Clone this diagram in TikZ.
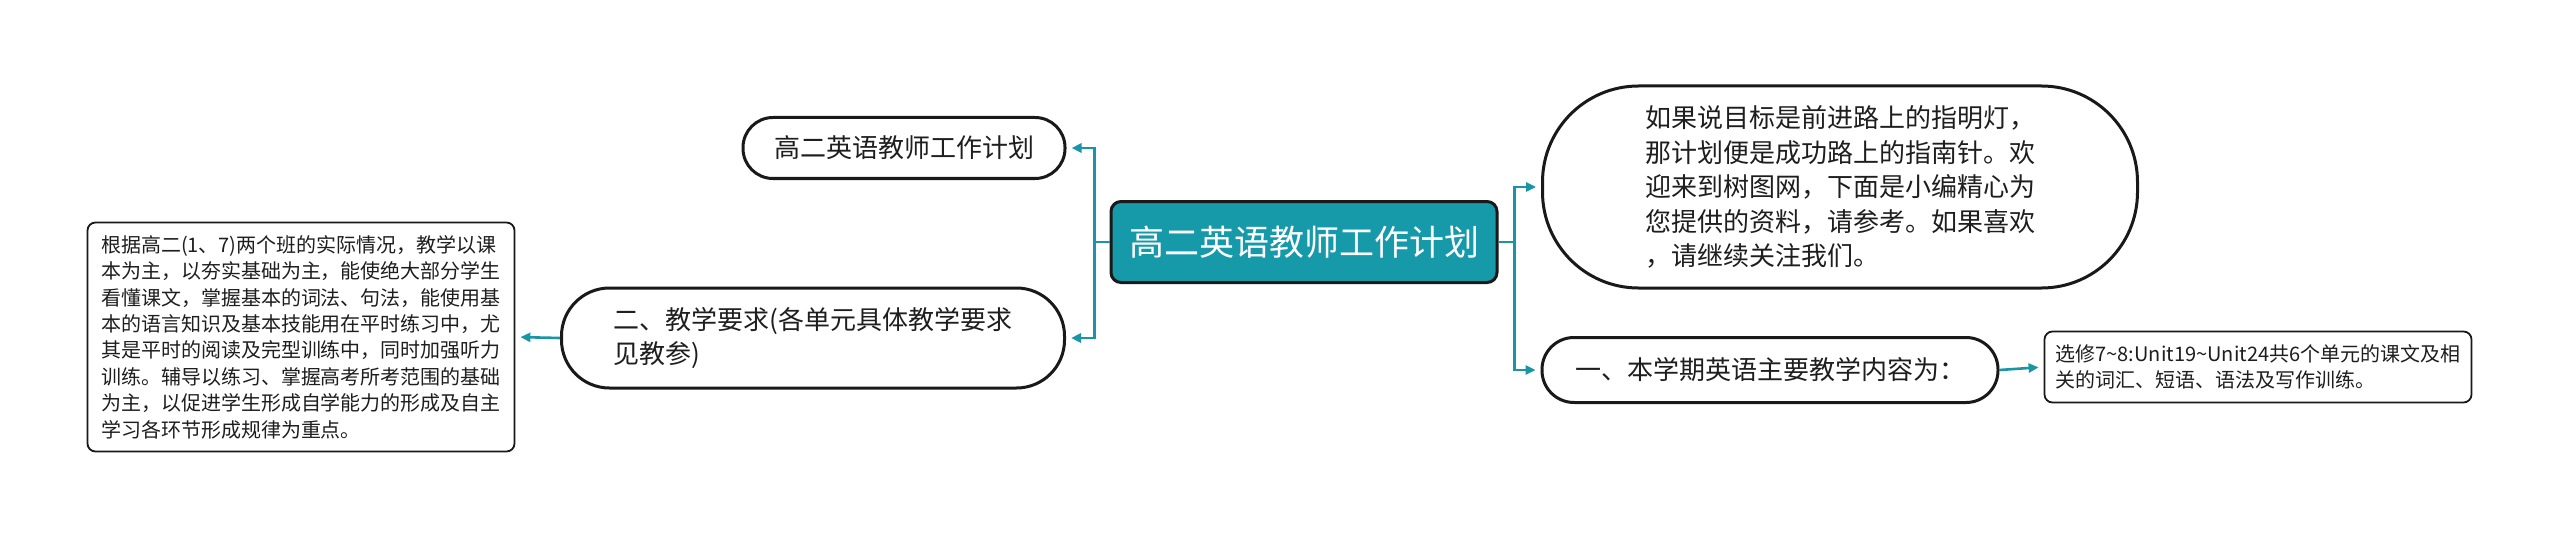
\documentclass[tikz,border=0pt]{standalone}
\usepackage{fontspec}
\setmainfont{Noto Sans CJK SC}
\usetikzlibrary{arrows.meta}
\definecolor{tealfill}{RGB}{22,154,170}
\definecolor{conncol}{RGB}{24,150,166}
\definecolor{txt}{RGB}{30,30,30}
\begin{document}
\begin{tikzpicture}[x=0.5pt,y=-0.5pt,
  conn/.style={draw=conncol, line width=1.3pt, -{Triangle[length=5pt,width=4.5pt]}, shorten >=2.5pt},
  root/.style={draw=black!90, line width=1.5pt, fill=tealfill, text=white, rounded corners=5pt,
    minimum width=193pt, minimum height=40.5pt, inner sep=0pt, font={\fontsize{17.5}{21}\selectfont}},
  pill/.style={draw=black!90, line width=1.5pt, fill=white, text=txt, inner sep=0pt,
    font={\fontsize{13}{17.25}\selectfont}},
  smallbox/.style={draw=black!90, line width=0.9pt, fill=white, text=txt, rounded corners=4pt, inner sep=0pt,
    font={\fontsize{10}{13.2}\selectfont}}
]
\useasboundingbox (0,0) rectangle (2560,540);
\fill[white] (0,0) rectangle (2560,540);

\node[root] (c) at (1304,242) {高二英语教师工作计划};

\node[pill, minimum width=161pt, minimum height=30.5pt, rounded corners=15pt] (lt) at (904,148) {高二英语教师工作计划};

\node[pill, minimum width=251.5pt, minimum height=50pt, rounded corners=24pt, align=left] (lm) at (813,338)
  {二、教学要求(各单元具体教学要求\\见教参)};

\node[pill, minimum width=297.5pt, minimum height=101pt, rounded corners=48pt, align=left] (tr) at (1840,187)
  {如果说目标是前进路上的指明灯，\\那计划便是成功路上的指南针。欢\\迎来到树图网，下面是小编精心为\\您提供的资料，请参考。如果喜欢\\，请继续关注我们。};

\node[pill, minimum width=228pt, minimum height=32.5pt, rounded corners=16pt] (br) at (1770,370)
  {一、本学期英语主要教学内容为：};

\node[smallbox, minimum width=213.5pt, minimum height=35.5pt, align=left] (rb) at (2258,367)
  {选修7\textasciitilde 8:Unit19\textasciitilde Unit24共6个单元的课文及相\\关的词汇、短语、语法及写作训练。};

\node[smallbox, minimum width=213.5pt, minimum height=114.5pt, align=left] (lb) at (301,337)
  {根据高二(1、7)两个班的实际情况，教学以课\\本为主，以夯实基础为主，能使绝大部分学生\\看懂课文，掌握基本的词法、句法，能使用基\\本的语言知识及基本技能用在平时练习中，尤\\其是平时的阅读及完型训练中，同时加强听力\\训练。辅导以练习、掌握高考所考范围的基础\\为主，以促进学生形成自学能力的形成及自主\\学习各环节形成规律为重点。};

\draw[conn] (c.west) -- ++(-15,0) |- (lt.east);
\draw[conn] (c.west) -- ++(-15,0) |- (lm.east);
\draw[conn] (c.east) -- ++(16,0) |- (tr.west);
\draw[conn] (c.east) -- ++(16,0) |- (br.west);
\draw[conn] (br.east) -- (rb.west);
\draw[conn] (lm.west) -- (lb.east);
\end{tikzpicture}
\end{document}
